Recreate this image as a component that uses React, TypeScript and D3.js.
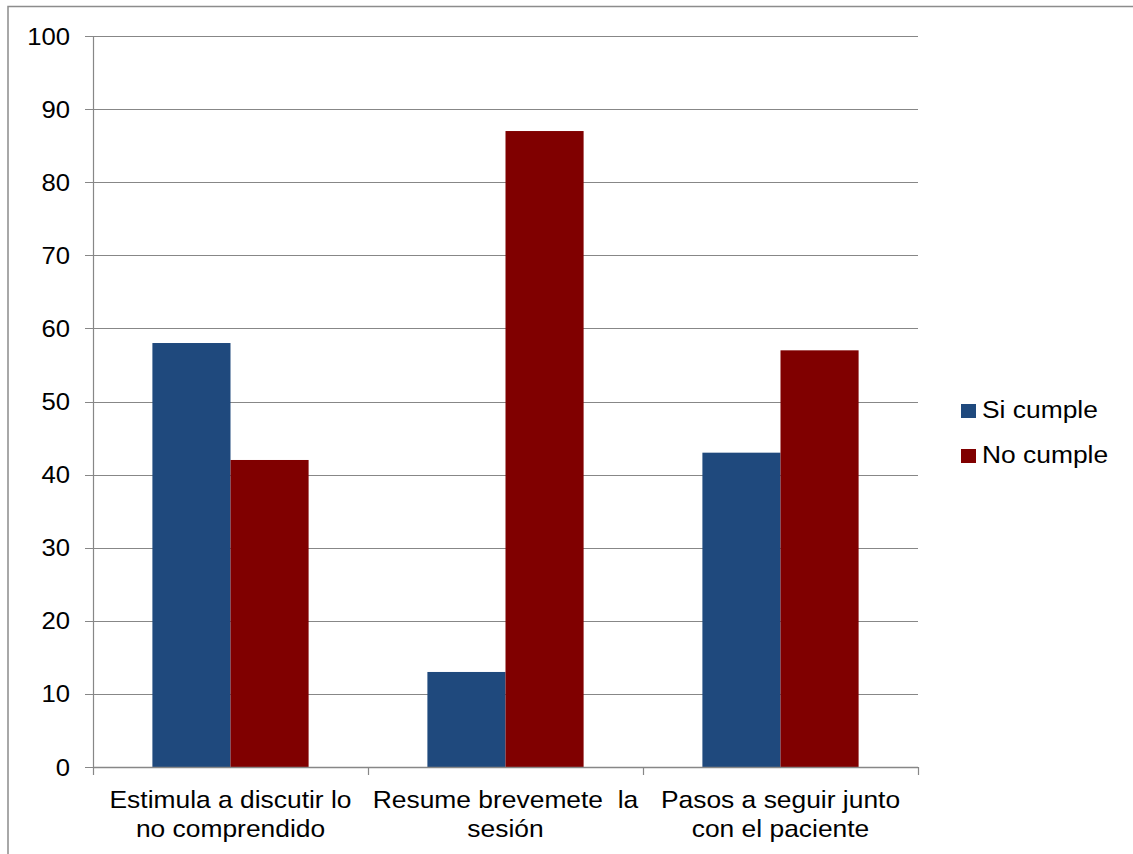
import React from 'react';
import * as d3 from 'd3';

const categories = [
  ['Estimula a discutir lo', 'no comprendido'],
  ['Resume brevemete  la', 'sesión'],
  ['Pasos a seguir junto', 'con el paciente'],
];
const seriesNames = ['Si cumple', 'No cumple'];
const siCumple = [58, 13, 43];
const noCumple = [42, 87, 57];
const yTicks = [0, 10, 20, 30, 40, 50, 60, 70, 80, 90, 100];
const colors = ['#1F497D', '#800000'];

const W = 1133;
const H = 854;
const left = 93;
const right = 918;
const top = 36;
const bottom = 767;
const font = "'Liberation Sans', Arial, sans-serif";
const fs = 24;
const stretch = 1.1; // source text looks horizontally stretched

export default function App() {
  const x0 = d3.scaleBand<number>().domain(categories.map((_, i) => i)).range([left, right]).paddingInner(0).paddingOuter(0);
  const inner = 0.216; // gap fraction on each side of the pair
  const x1 = d3.scaleBand<number>().domain([0, 1]).range([0, x0.bandwidth()]).paddingOuter(inner / (1 - 2 * inner) * 2).paddingInner(0);
  const y = d3.scaleLinear().domain([0, 100]).range([bottom, top]);
  const series = [siCumple, noCumple];

  return (
    <svg width={W} height={H} style={{ position: 'absolute', left: 0, top: 0, background: '#fff' }}>
      <rect x={8} y={6.5} width={W + 10} height={H + 10} fill="#fff" stroke="#8c8c8c" strokeWidth={1.5} />
      {yTicks.map(t => (
        <g key={t}>
          <line x1={left - 8} x2={right} y1={Math.round(y(t)) + 0.5} y2={Math.round(y(t)) + 0.5} stroke="#878787" strokeWidth={1.2} />
          <text transform={`translate(70,${y(t) + 8.5}) scale(1.07,1)`} textAnchor="end" fontFamily={font} fontSize={fs} fill="#000">{t}</text>
        </g>
      ))}
      <line x1={left + 0.5} x2={left + 0.5} y1={top} y2={bottom} stroke="#878787" strokeWidth={1.2} />
      {series.map((vals, s) =>
        vals.map((v, i) => (
          <rect key={`${s}-${i}`} x={(x0(i) ?? 0) + (x1(s) ?? 0)} width={x1.bandwidth()} y={y(v)} height={bottom - y(v)} fill={colors[s]} />
        ))
      )}
      <line x1={left} x2={right} y1={bottom + 0.5} y2={bottom + 0.5} stroke="#878787" strokeWidth={1.5} />
      {[0, 1, 2, 3].map(k => {
        const xx = left + k * x0.step() + 0.5;
        return <line key={k} x1={xx} x2={xx} y1={bottom} y2={bottom + 8} stroke="#878787" strokeWidth={1.2} />;
      })}
      {categories.map((lines, i) =>
        lines.map((l, j) => (
          <text key={`${i}-${j}`} transform={`translate(${(x0(i) ?? 0) + x0.bandwidth() / 2},${808 + j * 29}) scale(${stretch},1)`}
            fontFamily={font} fontSize={fs} fill="#000" textAnchor="middle" style={{ whiteSpace: 'pre' }}>{l}</text>
        ))
      )}
      {seriesNames.map((n, s) => (
        <g key={n} transform={`translate(961, ${404 + s * 45})`}>
          <rect x={0} y={0} width={15} height={14} fill={colors[s]} />
          <text transform={`translate(21,14) scale(${stretch},1)`} fontFamily={font} fontSize={fs} fill="#000">{n}</text>
        </g>
      ))}
    </svg>
  );
}
